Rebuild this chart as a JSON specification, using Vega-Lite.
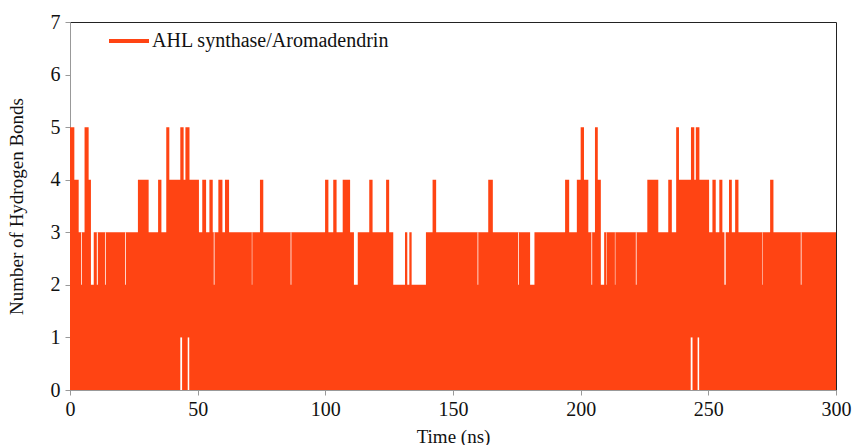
{
  "$schema": "https://vega.github.io/schema/vega-lite/v6.json",
  "width": 766,
  "height": 368,
  "autosize": {"type": "none"},
  "padding": {"left": 70, "top": 22, "right": 18, "bottom": 55},
  "background": "white",
  "config": {
    "font": "Liberation Serif",
    "view": {"stroke": "#222", "strokeWidth": 1},
    "axis": {
      "grid": false,
      "domainColor": "#999",
      "tickColor": "#999",
      "tickSize": 5,
      "labelFont": "Liberation Serif",
      "labelFontSize": 20,
      "labelColor": "#111",
      "labelFlush": false,
      "titleFont": "Liberation Serif",
      "titleFontSize": 19,
      "titleFontWeight": "normal",
      "titleColor": "#111"
    }
  },
  "datasets": {
    "env": [
      {"t": 0, "v": 5}, {"t": 1.7, "v": 4}, {"t": 3.4, "v": 3}, {"t": 5.7, "v": 5},
      {"t": 7.3, "v": 4}, {"t": 8.2, "v": 2}, {"t": 9.3, "v": 3}, {"t": 26.6, "v": 4},
      {"t": 30.8, "v": 3}, {"t": 34.5, "v": 4}, {"t": 35.8, "v": 3}, {"t": 37.7, "v": 5},
      {"t": 38.9, "v": 4}, {"t": 43.2, "v": 5}, {"t": 44.5, "v": 4}, {"t": 45.2, "v": 5},
      {"t": 46.8, "v": 4}, {"t": 50.5, "v": 3}, {"t": 51.8, "v": 4}, {"t": 53.3, "v": 3},
      {"t": 54.6, "v": 4}, {"t": 55.9, "v": 3}, {"t": 58.1, "v": 4}, {"t": 59.7, "v": 3},
      {"t": 60.7, "v": 4}, {"t": 62.3, "v": 3}, {"t": 74.4, "v": 4}, {"t": 75.7, "v": 3},
      {"t": 99.9, "v": 4}, {"t": 101.2, "v": 3}, {"t": 103.1, "v": 4}, {"t": 104.4, "v": 3},
      {"t": 106.8, "v": 4}, {"t": 109.7, "v": 3}, {"t": 111.2, "v": 2}, {"t": 112.7, "v": 3},
      {"t": 117.2, "v": 4}, {"t": 118.5, "v": 3}, {"t": 123.8, "v": 4}, {"t": 125.0, "v": 3},
      {"t": 126.6, "v": 2}, {"t": 131.2, "v": 3}, {"t": 132.1, "v": 2}, {"t": 132.9, "v": 3},
      {"t": 133.8, "v": 2}, {"t": 139.4, "v": 3}, {"t": 142.0, "v": 4}, {"t": 143.4, "v": 3},
      {"t": 163.8, "v": 4}, {"t": 165.6, "v": 3}, {"t": 180.2, "v": 2}, {"t": 181.9, "v": 3},
      {"t": 193.9, "v": 4}, {"t": 195.5, "v": 3}, {"t": 198.5, "v": 4}, {"t": 200.0, "v": 5},
      {"t": 201.3, "v": 4}, {"t": 203.0, "v": 3}, {"t": 205.6, "v": 5}, {"t": 206.7, "v": 4},
      {"t": 207.9, "v": 2}, {"t": 209.2, "v": 3}, {"t": 226.1, "v": 4}, {"t": 230.4, "v": 3},
      {"t": 234.3, "v": 4}, {"t": 235.7, "v": 3}, {"t": 237.4, "v": 5}, {"t": 238.5, "v": 4},
      {"t": 243.2, "v": 5}, {"t": 244.5, "v": 4}, {"t": 245.1, "v": 5}, {"t": 246.5, "v": 4},
      {"t": 250.3, "v": 3}, {"t": 251.6, "v": 4}, {"t": 252.9, "v": 3}, {"t": 254.3, "v": 4},
      {"t": 255.5, "v": 3}, {"t": 256.3, "v": 2}, {"t": 256.8, "v": 3}, {"t": 258.1, "v": 4},
      {"t": 259.2, "v": 3}, {"t": 260.5, "v": 4}, {"t": 261.8, "v": 3}, {"t": 274.2, "v": 4},
      {"t": 275.5, "v": 3}, {"t": 300, "v": 3}
    ],
    "gaps": [
      {"t": 4.4, "t2": 4.7, "lo": 2, "hi": 3},
      {"t": 10.5, "t2": 10.9, "lo": 2, "hi": 3},
      {"t": 13.7, "t2": 14.0, "lo": 2, "hi": 3},
      {"t": 21.6, "t2": 21.9, "lo": 2, "hi": 3},
      {"t": 56.3, "t2": 56.6, "lo": 2, "hi": 3},
      {"t": 71.2, "t2": 71.4, "lo": 2, "hi": 3},
      {"t": 86.4, "t2": 86.7, "lo": 2, "hi": 3},
      {"t": 159.6, "t2": 159.9, "lo": 2, "hi": 3},
      {"t": 175.5, "t2": 175.8, "lo": 2, "hi": 3},
      {"t": 204.2, "t2": 204.5, "lo": 2, "hi": 3},
      {"t": 210.1, "t2": 210.3, "lo": 2, "hi": 3},
      {"t": 213.4, "t2": 213.6, "lo": 2, "hi": 3},
      {"t": 221.6, "t2": 221.9, "lo": 2, "hi": 3},
      {"t": 271.2, "t2": 271.4, "lo": 2, "hi": 3},
      {"t": 286.2, "t2": 286.5, "lo": 2, "hi": 3},
      {"t": 43.2, "t2": 43.9, "lo": 0, "hi": 1},
      {"t": 46.1, "t2": 46.7, "lo": 0, "hi": 1},
      {"t": 243.1, "t2": 243.8, "lo": 0, "hi": 1},
      {"t": 245.8, "t2": 246.4, "lo": 0, "hi": 1}
    ]
  },
  "layer": [
    {
      "data": {"name": "env"},
      "mark": {"type": "area", "interpolate": "step-after", "opacity": 1},
      "encoding": {
        "x": {
          "field": "t", "type": "quantitative",
          "scale": {"domain": [0, 300], "nice": false},
          "axis": {"values": [0, 50, 100, 150, 200, 250, 300], "format": "d", "title": "Time (ns)", "titlePadding": 8, "labelPadding": 4}
        },
        "y": {
          "field": "v", "type": "quantitative",
          "scale": {"domain": [0, 7], "nice": false},
          "axis": {"values": [0, 1, 2, 3, 4, 5, 6, 7], "format": "d", "title": "Number of Hydrogen Bonds", "titlePadding": 24, "labelPadding": 5}
        },
        "color": {
          "datum": "AHL synthase/Aromadendrin",
          "type": "nominal",
          "scale": {"range": ["#FF4413"]},
          "legend": {
            "title": null,
            "orient": "none",
            "legendX": 37,
            "legendY": -3,
            "padding": 0,
            "symbolType": "stroke",
            "symbolSize": 1600,
            "symbolStrokeWidth": 4,
            "symbolStrokeColor": "#FF4413",
            "labelFont": "Liberation Serif",
            "labelFontSize": 20,
            "labelColor": "#111",
            "labelOffset": 1,
            "labelLimit": 500
          }
        }
      }
    },
    {
      "data": {"name": "gaps"},
      "mark": {"type": "rect", "color": "white"},
      "encoding": {
        "x": {"field": "t", "type": "quantitative"},
        "x2": {"field": "t2"},
        "y": {"field": "lo", "type": "quantitative"},
        "y2": {"field": "hi"}
      }
    }
  ]
}
